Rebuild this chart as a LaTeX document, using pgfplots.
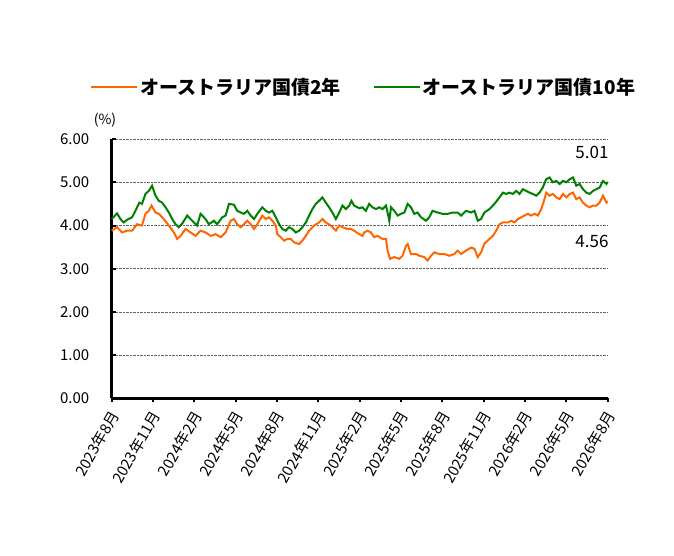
\documentclass[border=0pt]{standalone}
\usepackage{fontspec}
\setmainfont{Noto Sans CJK JP}
\usepackage{pgfplots}
\pgfplotsset{compat=1.18}
\definecolor{aor}{HTML}{FF6600}
\definecolor{agr}{HTML}{008000}
\begin{document}
\begin{tikzpicture}
\path[use as bounding box] (0,0) rectangle (674bp,556bp);
\begin{axis}[
 at={(111.7bp,157.5bp)}, anchor=south west,
 scale only axis, width=496bp, height=259.5bp,
 xmin=0, xmax=36, ymin=0, ymax=6,
 axis x line*=bottom, axis y line*=left,
 axis line style={line width=3bp, -},
 xtick={0,3,...,36},
 xticklabels={2023年8月,2023年11月,2024年2月,2024年5月,2024年8月,2024年11月,2025年2月,2025年5月,2025年8月,2025年11月,2026年2月,2026年5月,2026年8月},
 ytick={0,1,...,6},
 xtick align=outside, ytick align=inside,
 major tick length=4bp,
 tick style={line width=2bp, black},
 ymajorgrids, major grid style={densely dotted, black!60, line width=0.7bp},
 /pgf/number format/assume math mode=true,
 /pgf/number format/fixed, /pgf/number format/fixed zerofill, /pgf/number format/precision=2,
 yticklabel style={font=\fontsize{15bp}{18bp}\selectfont, xshift=-19bp},
 xticklabel style={font=\fontsize{15bp}{17bp}\selectfont, xshift=4bp, yshift=-9bp, rotate=60, anchor=east, inner sep=1bp},
 legend style={at={(0.508,1.2)}, anchor=center, draw=none, fill=none,
   font=\fontsize{19bp}{22bp}\selectfont\bfseries,
   /tikz/every even column/.append style={column sep=30bp}},
 legend columns=2,
 legend image code/.code={\draw[#1, line width=2bp] (0bp,0bp) -- (46bp,0bp);},
 clip=false,
]
\addplot[aor, line width=2bp] coordinates {
(0,3.88)(0.39,3.96)(0.75,3.84)(1.11,3.88)(1.48,3.88)(1.84,4.03)(2.20,4.00)(2.45,4.27)(2.69,4.34)(2.89,4.46)
(3.18,4.30)(3.42,4.27)(3.78,4.15)(4.15,4.00)(4.51,3.84)(4.75,3.69)(5.00,3.76)(5.36,3.92)(5.72,3.84)(6.09,3.76)
(6.45,3.88)(6.81,3.84)(7.18,3.76)(7.54,3.80)(7.91,3.73)(8.27,3.84)(8.63,4.11)(8.87,4.15)(9.11,4.03)(9.36,3.96)
(9.60,4.03)(9.84,4.11)(10.09,4.03)(10.33,3.92)(10.57,4.03)(10.93,4.23)(11.18,4.15)(11.42,4.19)(11.66,4.11)(11.91,4.00)
(12.02,3.80)(12.27,3.73)(12.51,3.65)(12.75,3.69)(12.99,3.69)(13.24,3.61)(13.60,3.57)(13.84,3.65)(14.09,3.76)(14.33,3.88)
(14.69,4.00)(15.05,4.07)(15.29,4.15)(15.54,4.07)(15.90,4.00)(16.27,3.88)(16.51,4.00)(16.75,3.96)(17.11,3.92)(17.36,3.92)
(17.60,3.88)(17.96,3.80)(18.20,3.76)(18.33,3.84)(18.57,3.88)(18.81,3.84)(19.05,3.73)(19.29,3.76)(19.66,3.69)(19.91,3.69)
(20.02,3.42)(20.20,3.23)(20.51,3.27)(20.87,3.23)(21.11,3.30)(21.36,3.53)(21.48,3.57)(21.72,3.34)(22.09,3.34)(22.33,3.30)
(22.69,3.27)(22.93,3.19)(23.18,3.30)(23.42,3.38)(23.78,3.34)(24.15,3.34)(24.51,3.30)(24.87,3.34)(25.11,3.42)(25.36,3.34)
(25.72,3.42)(26.09,3.49)(26.33,3.46)(26.57,3.27)(26.81,3.38)(27.05,3.58)(27.42,3.69)(27.66,3.76)(27.91,3.88)(28.15,4.03)
(28.39,4.07)(28.75,4.07)(29.00,4.11)(29.24,4.07)(29.48,4.15)(29.72,4.19)(29.96,4.23)(30.20,4.27)(30.45,4.23)(30.69,4.27)
(30.93,4.23)(31.18,4.38)(31.37,4.57)(31.54,4.76)(31.78,4.69)(32.02,4.73)(32.27,4.65)(32.51,4.61)(32.75,4.73)(33.00,4.65)
(33.24,4.73)(33.48,4.76)(33.72,4.61)(33.96,4.65)(34.20,4.53)(34.45,4.46)(34.69,4.42)(34.93,4.46)(35.18,4.46)(35.42,4.53)
(35.66,4.69)(35.91,4.53)(36,4.56)
};
\addlegendentry{オーストラリア国債2年}
\addplot[agr, line width=2bp] coordinates {
(0,4.15)(0.39,4.28)(0.63,4.15)(0.87,4.07)(1.11,4.13)(1.48,4.19)(1.72,4.34)(2.01,4.53)(2.20,4.50)(2.45,4.73)
(2.69,4.80)(2.93,4.92)(3.18,4.69)(3.42,4.57)(3.66,4.53)(3.91,4.42)(4.15,4.30)(4.39,4.15)(4.63,4.03)(4.87,3.96)
(5.11,4.04)(5.48,4.23)(5.84,4.11)(6.20,4.00)(6.45,4.27)(6.81,4.15)(7.05,4.03)(7.42,4.11)(7.66,4.03)(8.02,4.19)
(8.27,4.23)(8.51,4.50)(8.87,4.48)(9.11,4.34)(9.36,4.30)(9.60,4.27)(9.84,4.34)(10.09,4.23)(10.33,4.15)(10.57,4.27)
(10.93,4.42)(11.18,4.34)(11.42,4.30)(11.66,4.34)(11.91,4.19)(12.15,4.03)(12.39,3.92)(12.63,3.88)(12.87,3.96)(13.11,3.92)
(13.36,3.84)(13.60,3.88)(13.84,3.96)(14.09,4.07)(14.33,4.23)(14.57,4.38)(14.81,4.50)(15.05,4.57)(15.29,4.65)(15.54,4.53)
(15.78,4.42)(16.02,4.30)(16.27,4.15)(16.51,4.30)(16.75,4.46)(17.00,4.38)(17.24,4.46)(17.40,4.57)(17.60,4.46)(17.96,4.40)
(18.20,4.42)(18.45,4.34)(18.69,4.50)(18.93,4.42)(19.18,4.38)(19.42,4.42)(19.66,4.38)(19.91,4.46)(20.15,4.11)(20.27,4.42)
(20.51,4.34)(20.75,4.23)(21.00,4.27)(21.24,4.30)(21.48,4.50)(21.72,4.42)(21.96,4.27)(22.20,4.30)(22.45,4.19)(22.81,4.11)
(23.05,4.19)(23.29,4.34)(23.66,4.30)(24.02,4.27)(24.39,4.27)(24.75,4.30)(25.11,4.30)(25.36,4.23)(25.72,4.34)(26.09,4.30)
(26.33,4.34)(26.57,4.11)(26.81,4.15)(27.05,4.30)(27.42,4.38)(27.78,4.50)(28.15,4.65)(28.39,4.76)(28.63,4.73)(28.87,4.76)
(29.11,4.73)(29.36,4.80)(29.60,4.73)(29.84,4.84)(30.09,4.80)(30.33,4.76)(30.57,4.73)(30.81,4.69)(31.05,4.76)(31.29,4.88)
(31.54,5.07)(31.78,5.11)(32.02,5.00)(32.27,5.03)(32.51,4.96)(32.75,5.03)(33.00,5.00)(33.24,5.07)(33.48,5.11)(33.72,4.92)
(33.96,4.96)(34.20,4.84)(34.45,4.76)(34.69,4.73)(34.93,4.80)(35.18,4.84)(35.42,4.88)(35.66,5.03)(35.91,4.96)(36,5.01)
};
\addlegendentry{オーストラリア国債10年}
\node[font=\fontsize{17bp}{20bp}\selectfont] at (axis cs:34.86,5.68) {5.01};
\node[font=\fontsize{17bp}{20bp}\selectfont] at (axis cs:34.86,3.64) {4.56};
\node[font=\fontsize{14bp}{16bp}\selectfont] at (rel axis cs:-0.0135,1.073) {(\%)};
\end{axis}
\end{tikzpicture}
\end{document}
